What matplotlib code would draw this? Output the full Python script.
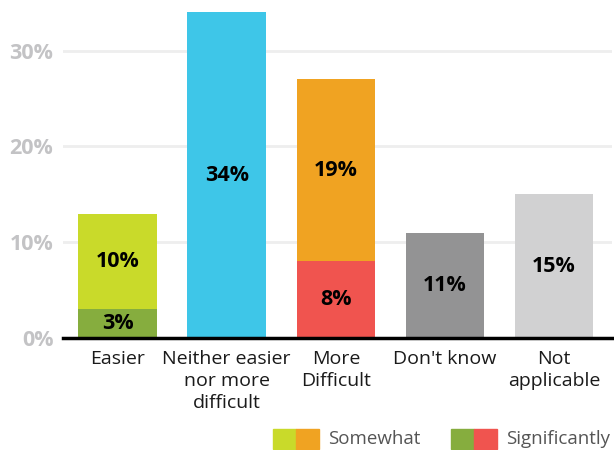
import matplotlib.pyplot as plt
from matplotlib.patches import Rectangle

# data
categories = ['Easier', 'Neither easier\nnor more\ndifficult', 'More\nDifficult', "Don't know", 'Not\napplicable']
significantly = [3, 0, 8, 0, 0]
somewhat = [10, 34, 19, 11, 15]
sig_colors = ['#86ad3e', '#3ec6e8', '#f0544f', '#939394', '#d1d1d2']
some_colors = ['#c9da2a', '#3ec6e8', '#f0a322', '#939394', '#d1d1d2']
yticks = [0, 10, 20, 30]

plt.rcParams['font.family'] = ['Open Sans', 'DejaVu Sans']

fig = plt.figure(figsize=(6.14, 4.5), dpi=100)
ax = fig.add_axes([63 / 614, 1 - 338 / 450, 549 / 614, 338 / 450])

x = list(range(len(categories)))
width = 0.72

# stacked bars: significantly at the bottom, somewhat on top
ax.bar(x, significantly, width=width, color=sig_colors, zorder=2)
ax.bar(x, somewhat, width=width, bottom=significantly, color=some_colors, zorder=2)

# value labels centred in each segment
for i in x:
    if significantly[i] > 0:
        ax.text(i, significantly[i] / 2, f'{significantly[i]}%', ha='center', va='center',
                fontsize=15.5, fontweight='bold', color='black', zorder=3)
    ax.text(i, significantly[i] + somewhat[i] / 2, f'{somewhat[i]}%', ha='center', va='center',
            fontsize=15.5, fontweight='bold', color='black', zorder=3)

ax.set_xlim(-0.5, 4.53)
ax.set_ylim(0, 35.3)
ax.set_yticks(yticks)
ax.set_yticklabels([f'{t}%' for t in yticks], fontsize=15.5, fontweight='bold', color='#c3c3c5')
ax.set_xticks(x)
ax.set_xticklabels(categories, fontsize=14, color='#1a1a1a', linespacing=1.25)
ax.tick_params(axis='both', length=0)
ax.tick_params(axis='y', pad=7)
ax.tick_params(axis='x', pad=9)

for side in ['top', 'right', 'left']:
    ax.spines[side].set_visible(False)
ax.spines['bottom'].set_linewidth(2.5)
ax.spines['bottom'].set_color('black')
ax.spines['bottom'].set_zorder(4)

ax.yaxis.grid(True, color='#eeeeee', linewidth=2)
ax.set_axisbelow(True)

# legend drawn by hand: two colour squares per entry
W, H = 614, 450
legend_items = [
    ('Somewhat', some_colors[0], some_colors[2], 273),
    ('Significantly', sig_colors[0], sig_colors[2], 451),
]
for label, c1, c2, x0 in legend_items:
    fig.add_artist(Rectangle((x0 / W, 1 - 449 / H), 23 / W, 20 / H, color=c1, transform=fig.transFigure))
    fig.add_artist(Rectangle(((x0 + 23) / W, 1 - 449 / H), 23 / W, 20 / H, color=c2, transform=fig.transFigure))
    fig.text((x0 + 55) / W, 1 - 439 / H, label, fontsize=13.5, color='#555555', va='center', ha='left')

fig.savefig('out.png', dpi=100)
